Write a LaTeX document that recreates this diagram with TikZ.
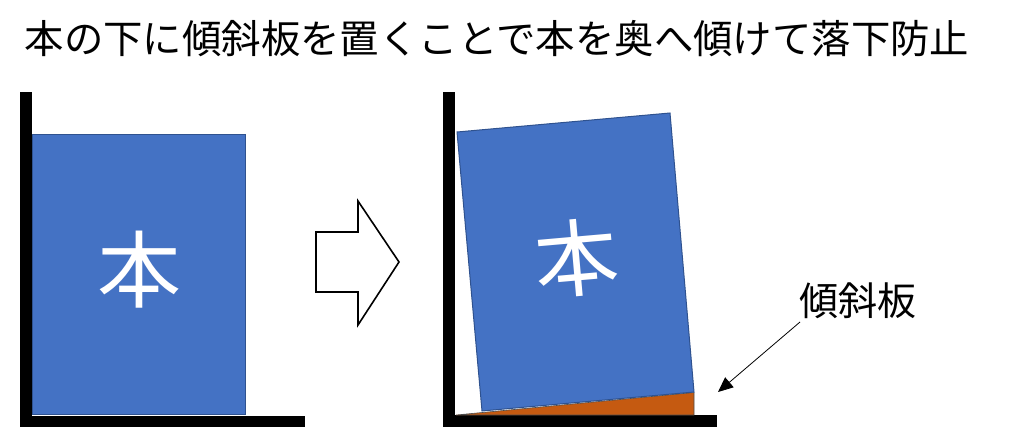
\documentclass[tikz,border=0pt]{standalone}
\usepackage{fontspec}
\setmainfont{Noto Sans CJK JP}
\usetikzlibrary{arrows.meta}
\definecolor{bookblue}{HTML}{4472C4}
\definecolor{bookedge}{HTML}{2F528F}
\definecolor{wedgeorange}{HTML}{C55A11}
\begin{document}
\begin{tikzpicture}[x=1pt,y=-1pt,
  wall/.style={fill=black,draw=none},
  book/.style={fill=bookblue,draw=bookedge,line width=1pt,line join=miter},
  booklabel/.style={text=white,font=\fontsize{84}{84}\selectfont,inner sep=0pt},
  wedgestyle/.style={fill=wedgeorange,draw=black!70,line width=0.6pt},
  bigarrow/.style={fill=white,draw=black,line width=1.6pt,line join=miter},
  pointer/.style={draw=black,line width=0.8pt,-{Triangle[length=15pt,width=13pt]}}]
\useasboundingbox (0,0) rectangle (1024,428);
% title
\node[font=\fontsize{39.4}{40}\selectfont,inner sep=0pt] (title) at (497,39) {本の下に傾斜板を置くことで本を奥へ傾けて落下防止};
% left scene
\fill[wall] (20,92) rectangle (32,427);
\fill[wall] (20,416) rectangle (305,427);
\draw[book] (32.5,134.5) rectangle (245.5,414.5);
\node[booklabel] (hon1) at (139,270) {本};
% big arrow
\draw[bigarrow] (316,232) -- (358,232) -- (358,201) -- (399,262) -- (358,325) -- (358,292) -- (316,292) -- cycle;
% right scene
\fill[wall] (443,92) rectangle (455,427);
\fill[wall] (443,415) rectangle (717,427);
\draw[wedgestyle] (456,415) -- (694,415) -- (694,392.5) -- cycle;
\draw[book] (457,132) -- (670,113) -- (694,392) -- (482,411) -- cycle;
\node[booklabel,rotate=5] (hon2) at (577,258) {本};
% label
\node[font=\fontsize{39}{39}\selectfont,inner sep=0pt,anchor=west] (label) at (799,301) {傾斜板};
\coordinate (tip) at (718,392);
\coordinate (tail) at (800,322);
\draw[pointer] (tail) -- (tip);
\end{tikzpicture}
\end{document}
